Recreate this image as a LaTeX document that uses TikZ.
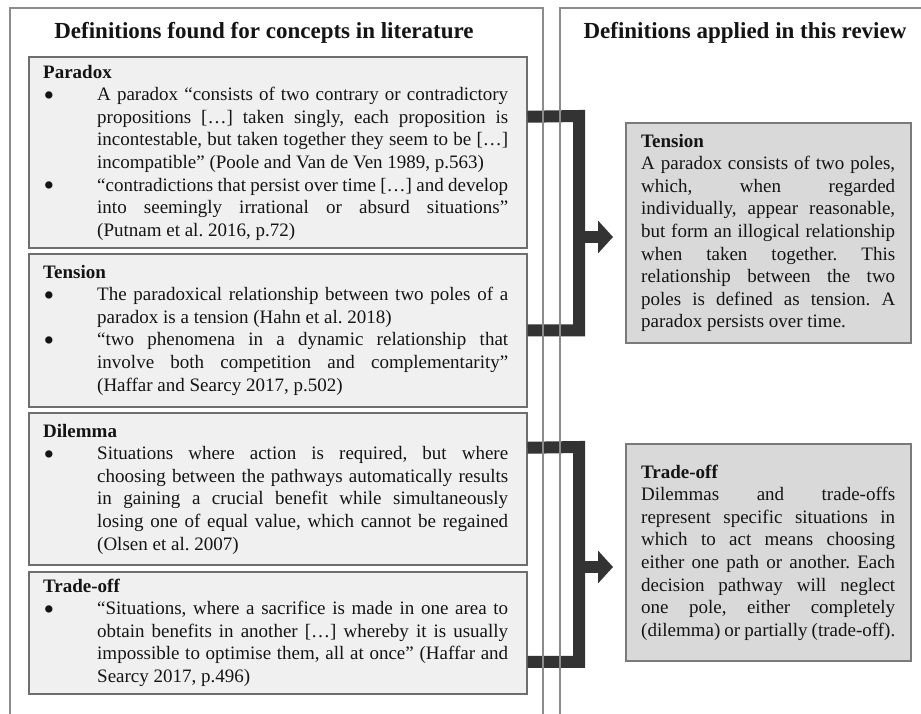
\documentclass[tikz,border=0pt]{standalone}
\usepackage{fontspec}
\usepackage{graphicx}
\setmainfont{Liberation Serif}
\usetikzlibrary{arrows.meta}
\definecolor{panelc}{HTML}{8C8C8C}
\definecolor{lboxfill}{HTML}{F0F0F0}
\definecolor{lboxdraw}{HTML}{6E6E6E}
\definecolor{rboxfill}{HTML}{D9D9D9}
\definecolor{rboxdraw}{HTML}{7A7A7A}
\definecolor{barc}{HTML}{333333}
\definecolor{txt}{HTML}{141414}
\newcommand{\bigbul}{\raisebox{-4.5pt}[0pt][0pt]{\scalebox{1.6}{\textbullet}}}
\newcommand{\bitem}[1]{\hbox to \linewidth{\hbox to 54pt{\hskip0.5pt\bigbul\hss}\hbox to \dimexpr\linewidth-54pt\relax{#1}}}
\newcommand{\jline}[1]{\hbox to \linewidth{\hskip54pt\hbox to \dimexpr\linewidth-54pt\relax{#1}}}
\newcommand{\eline}[1]{\hbox to \linewidth{\hskip54pt #1\hfil}}
\newcommand{\rjl}[1]{\hbox to \linewidth{#1}}
\newcommand{\rel}[1]{\hbox to \linewidth{#1\hfil}}
\newcommand{\head}[1]{\hbox to \linewidth{\bfseries #1\hfil}}
\newcommand{\bodyfont}{\fontsize{19}{22.6}\selectfont\frenchspacing}
\tikzset{
  lbox/.style={draw=lboxdraw, fill=lboxfill, line width=1.5pt, rectangle, inner sep=0pt, anchor=north west, minimum width=498pt},
  rbox/.style={draw=rboxdraw, fill=rboxfill, line width=2pt, rectangle, inner sep=0pt, anchor=north west, minimum width=285pt, minimum height=#1},
  panel/.style={draw=panelc, line width=1.5pt, rectangle, inner sep=0pt, anchor=north west, minimum height=800pt},
  txtnode/.style={anchor=base west, inner sep=0pt, text=txt, font=\bodyfont},
  title/.style={anchor=base, inner sep=0pt, text=txt, font=\fontsize{23}{27}\selectfont\bfseries},
  bar/.style={draw=barc, line width=12pt, line join=miter, line cap=butt},
  arr/.style={draw=barc, line width=12pt, line cap=butt, -{Triangle[length=15pt,width=32pt]}, shorten >=12pt}
}
\begin{document}
\begin{tikzpicture}[x=1pt, y=-1pt]
\useasboundingbox (0,0) rectangle (921,713);
\fill[white] (0,0) rectangle (921,713);

% left boxes
\node[lbox, minimum height=191pt] (par) at (28,56) {};
\node[lbox, minimum height=153pt] (tenl) at (28,253) {};
\node[lbox, minimum height=152pt] (dil) at (28,412) {};
\node[lbox, minimum height=122pt] (tro) at (28,571) {};
% right boxes
\node[rbox=220pt] (tenr) at (625,122) {};
\node[rbox=217pt] (trr) at (625,443) {};

% connectors
\coordinate (v1) at (579,116);
\coordinate (v2) at (579,447);
\draw[bar] ([yshift=35.5pt]par.east) -- (v1) |- (tenl.east);
\draw[bar] ([yshift=41pt]dil.east) -- (v2) |- ([yshift=-29pt]tro.east);
\coordinate (a1) at (579,237);
\coordinate (a2) at (579,567);
\draw[arr] (a1) -- (a1 -| tenr.west);
\draw[arr] (a2) -- (a2 -| trr.west);

% panels
\node[panel, minimum width=533pt] (lpanel) at (9,7) {};
\node[panel, minimum width=373pt] (rpanel) at (559,7) {};
\node[title] (t1) at (264,38) {Definitions found for concepts in literature};
\node[title] (t2) at (745,38) {Definitions applied in this review};

% texts
\node[txtnode] (xpar) at (43,78) {\parbox[t]{465pt}{\bodyfont
\head{Paradox}
\bitem{A paradox “consists of two contrary or contradictory}
\jline{propositions […] taken singly, each proposition is}
\jline{incontestable, but taken together they seem to be […]}
\eline{incompatible” (Poole and Van de Ven 1989, p.563)}
\bitem{“contradictions that persist over time […] and develop}
\jline{into seemingly irrational or absurd situations”}
\eline{(Putnam et al. 2016, p.72)}}};

\node[txtnode] (xtenl) at (43,278) {\parbox[t]{465pt}{\bodyfont
\head{Tension}
\bitem{The paradoxical relationship between two poles of a}
\eline{paradox is a tension (Hahn et al. 2018)}
\bitem{“two phenomena in a dynamic relationship that}
\jline{involve both competition and complementarity”}
\eline{(Haffar and Searcy 2017, p.502)}}};

\node[txtnode] (xdil) at (43,437) {\parbox[t]{465pt}{\bodyfont
\head{Dilemma}
\bitem{Situations where action is required, but where}
\jline{choosing between the pathways automatically results}
\jline{in gaining a crucial benefit while simultaneously}
\jline{losing one of equal value, which cannot be regained}
\eline{(Olsen et al. 2007)}}};

\node[txtnode] (xtro) at (43,592) {\parbox[t]{465pt}{\bodyfont
\head{Trade-off}
\bitem{“Situations, where a sacrifice is made in one area to}
\jline{obtain benefits in another […] whereby it is usually}
\jline{impossible to optimise them, all at once” (Haffar and}
\eline{Searcy 2017, p.496)}}};

\node[txtnode] (xtenr) at (641,147) {\parbox[t]{254pt}{\bodyfont
\head{Tension}
\rjl{A paradox consists of two poles,}
\rjl{which, when regarded}
\rjl{individually, appear reasonable,}
\rjl{but form an illogical relationship}
\rjl{when taken together. This}
\rjl{relationship between the two}
\rjl{poles is defined as tension. A}
\rel{paradox persists over time.}}};

\node[txtnode] (xtrr) at (641,478) {\parbox[t]{254pt}{\bodyfont
\head{Trade-off}
\rjl{Dilemmas and trade-offs}
\rjl{represent specific situations in}
\rjl{which to act means choosing}
\rjl{either one path or another. Each}
\rjl{decision pathway will neglect}
\rjl{one pole, either completely}
\rjl{(dilemma) or partially (trade-off).}}};
\end{tikzpicture}
\end{document}
